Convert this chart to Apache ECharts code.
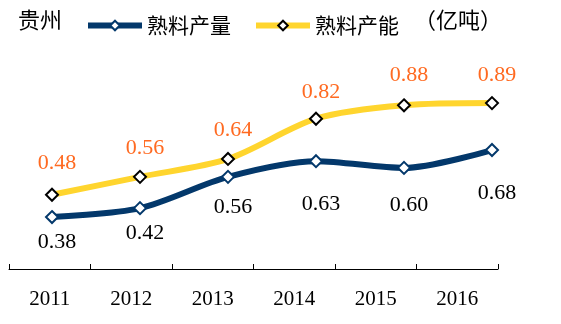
<!DOCTYPE html>
<html><head><meta charset="utf-8">
<script src="https://cdn.jsdelivr.net/npm/echarts@6/dist/echarts.min.js"></script>
<style>html,body{margin:0;padding:0;background:#fff}#c{width:561px;height:324px}</style>
</head><body><div id="c"></div>
<script>
const categories = ['2011','2012','2013','2014','2015','2016'];
const outputName = '熟料产量';
const capacityName = '熟料产能';
const outputValues = [0.38, 0.42, 0.56, 0.63, 0.60, 0.68];
const capacityValues = [0.48, 0.56, 0.64, 0.82, 0.88, 0.89];
const regionTitle = '贵州';
const unitText = '（亿吨）';
// label vertical offsets (styling only)
const outputLabelDy = [25, 25, 30, 43, 37, 43];
const capacityLabelDy = [-32, -29, -29, -27, -30, -28];

const navy = '#03386B', yellow = '#FFD52E', orange = '#FF6A21';
const serif = '"Liberation Serif","Times New Roman",serif';
const cjk = '"Noto Sans CJK SC","Noto Sans",sans-serif';

const chart = echarts.init(document.getElementById('c'), null, {renderer:'canvas'});
chart.setOption({
  animation: false,
  backgroundColor: '#fff',
  graphic: [
    {type:'text', left: 18, top: 9, style:{text: regionTitle, font: '22px ' + cjk, fill:'#000'}},
    {type:'text', left: 414, top: 9, style:{text: unitText, font: '22px ' + cjk, fill:'#000'}}
  ],
  legend: {
    left: 80, top: 10, itemWidth: 54, itemHeight: 12, itemGap: 22,
    textStyle: {fontFamily: cjk, fontSize: 21, color: '#000', padding:[0,0,0,0]},
    lineStyle: {width: 6},
    data: [
      {name: outputName, lineStyle:{width:6, color:navy}},
      {name: capacityName, lineStyle:{width:6, color:yellow}}
    ]
  },
  grid: [
    {left: 9, right: 63, top: 78.5, bottom: 55},
    {left: 52, right: 69, top: 78.5, bottom: 22}
  ],
  xAxis: [
    {type:'category', gridIndex:0, data: categories, boundaryGap: true,
     axisLine:{show:true, lineStyle:{color:'#000', width:1}},
     axisTick:{show:true, inside:true, length:5, alignWithLabel:false, interval:0, lineStyle:{color:'#000', width:1}},
     axisLabel:{color:'#000', fontFamily: serif, fontSize: 21, margin: 20}},
    {type:'category', gridIndex:1, data: categories, boundaryGap: false, show:false}
  ],
  yAxis: [
    {type:'value', gridIndex:0, show:false, min:0, max:1},
    {type:'value', gridIndex:1, show:false, min:0, max:1}
  ],
  series: [
    {name: outputName, type:'line', xAxisIndex:1, yAxisIndex:1, smooth:0.3,
     data: outputValues.map((v,i)=>({value:v, label:{offset:[5, outputLabelDy[i]]}})),
     lineStyle:{color:navy, width:6}, itemStyle:{color:'#fff', borderColor:navy, borderWidth:2},
     color: navy,
     symbol:'diamond', symbolSize:[12,12], showAllSymbol:true,
     label:{show:true, position:'inside', color:'#000', fontFamily:serif, fontSize:22,
            formatter: p => p.value.toFixed(2)},
     z:3},
    {name: capacityName, type:'line', xAxisIndex:1, yAxisIndex:1, smooth:0.3,
     data: capacityValues.map((v,i)=>({value:v, label:{offset:[5, capacityLabelDy[i]]}})),
     lineStyle:{color:yellow, width:6}, itemStyle:{color:'#fff', borderColor:'#000', borderWidth:2},
     color: yellow,
     symbol:'diamond', symbolSize:[12,12], showAllSymbol:true,
     label:{show:true, position:'inside', color:orange, fontFamily:serif, fontSize:22,
            formatter: p => p.value.toFixed(2)},
     z:2}
  ]
});
</script></body></html>
